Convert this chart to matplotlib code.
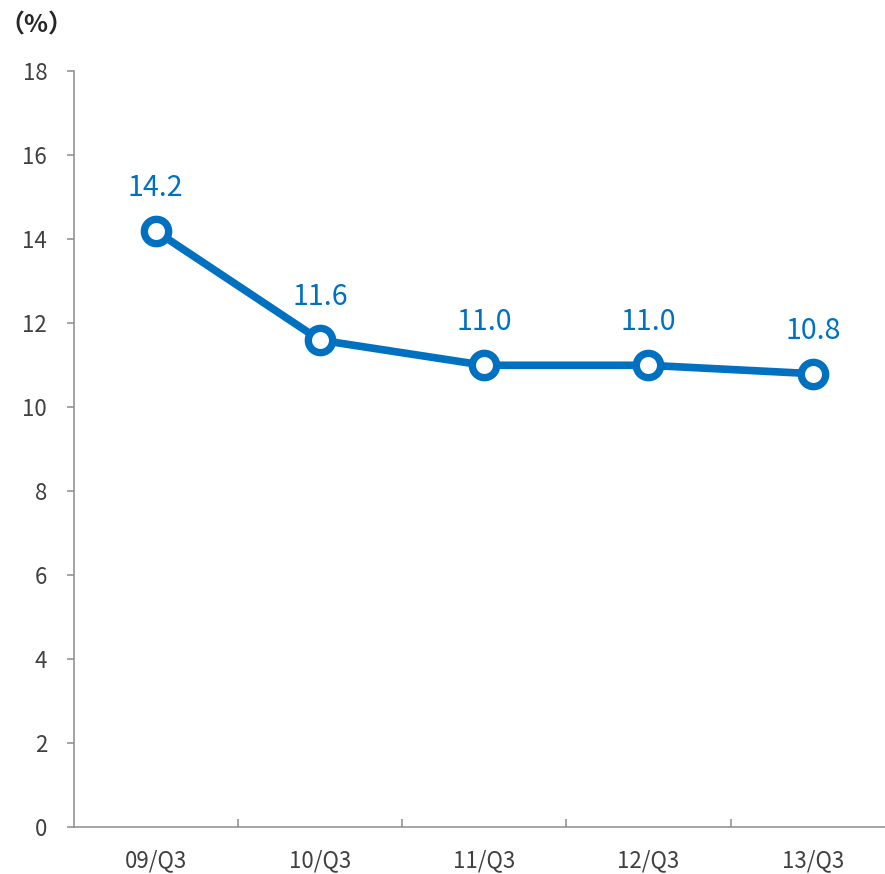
import matplotlib
matplotlib.use('Agg')
from matplotlib import pyplot as plt
from matplotlib.ticker import FixedLocator

plt.rcParams['font.family'] = ['Noto Sans CJK JP', 'DejaVu Sans']

# data
quarters = ['09/Q3', '10/Q3', '11/Q3', '12/Q3', '13/Q3']
values = [14.2, 11.6, 11.0, 11.0, 10.8]
value_labels = ['14.2', '11.6', '11.0', '11.0', '10.8']
yticks = [0, 2, 4, 6, 8, 10, 12, 14, 16, 18]

blue = '#0070C0'
axis_gray = '#8C8C8C'
text_gray = '#404040'


def main():

    fig = plt.figure(figsize=(8.85, 8.74), dpi=100)
    ax = fig.add_axes([0.0831, 0.0538, 0.928, 0.8644])

    x = list(range(len(quarters)))
    ax.plot(x, values,
            color=blue,
            linewidth=5.5,
            marker='o',
            markersize=17.5,
            markerfacecolor='white',
            markeredgecolor=blue,
            markeredgewidth=5.3,
            zorder=3,
            clip_on=False)

    for xi, v, lab in zip(x, values, value_labels):
        ax.annotate(lab, (xi, v), xytext=(0, 31), textcoords='offset points',
                    ha='center', va='center', fontsize=20.5, color=blue)

    ax.set_xlim(-0.5, len(quarters) - 0.5)
    ax.set_ylim(0, 18)

    # category boundary ticks (inward) and labels at category centres
    ax.xaxis.set_major_locator(FixedLocator([i + 0.5 for i in range(len(quarters) - 1)]))
    ax.xaxis.set_minor_locator(FixedLocator(x))
    ax.set_xticklabels([], minor=False)
    ax.set_xticklabels(quarters, minor=True)
    ax.tick_params(axis='x', which='major', direction='in', length=6,
                   width=1.1, color=axis_gray)
    ax.tick_params(axis='x', which='minor', length=0, pad=16,
                   labelsize=16, labelcolor=text_gray)

    ax.set_yticks(yticks)
    ax.tick_params(axis='y', direction='out', length=5, width=1.1,
                   color=axis_gray, pad=14, labelsize=16,
                   labelcolor=text_gray)

    for side in ['top', 'right']:
        ax.spines[side].set_visible(False)
    for side in ['left', 'bottom']:
        ax.spines[side].set_color(axis_gray)
        ax.spines[side].set_linewidth(1.1)

    fig.text(0.041, 0.971, '（%）', ha='center', va='center',
             fontsize=18, fontweight='bold', color='#262626')

    plt.savefig('out.png', dpi=100)


if __name__ == '__main__':
    main()
